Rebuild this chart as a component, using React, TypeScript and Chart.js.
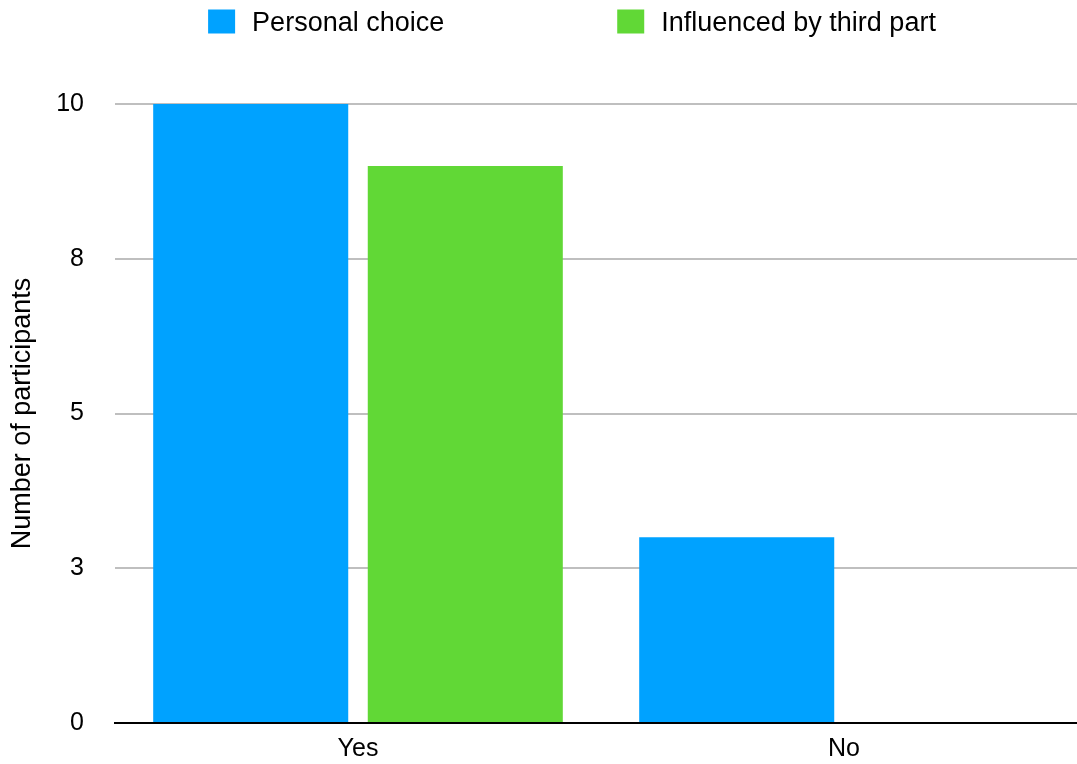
import React, { useEffect, useRef } from "react";
import { Chart, registerables } from "chart.js";

Chart.register(...registerables);

const categories = ["Yes", "No"];
const seriesLabels = ["Personal choice", "Influenced by third part"];
const personalChoice = [10, 3];
const influencedByThirdPart = [9, 0];
const yTickValues = [0, 2.5, 5, 7.5, 10];
const yTickLabels = ["0", "3", "5", "8", "10"];
const yAxisTitle = "Number of participants";

const BLUE = "#00A2FF";
const GREEN = "#61D836";
const FONT = '"Liberation Sans", Arial, Helvetica, sans-serif';

const topLegend = {
  id: "topLegend",
  afterDraw(chart: any) {
    const ctx = chart.ctx;
    ctx.save();
    ctx.font = `27px ${FONT}`;
    ctx.textBaseline = "alphabetic";
    ctx.textAlign = "left";
    const boxW = 27;
    const boxH = 24;
    const textGap = 17;
    const itemGap = 173;
    const items = chart.data.datasets.map((ds: any) => ({
      text: ds.label,
      color: ds.backgroundColor,
      w: boxW + textGap + ctx.measureText(ds.label).width,
    }));
    const total =
      items.reduce((s: number, it: any) => s + it.w, 0) + itemGap * (items.length - 1);
    let x = 572 - total / 2;
    const boxTop = 9.5;
    const baseline = 31;
    items.forEach((it: any) => {
      ctx.fillStyle = it.color;
      ctx.fillRect(x, boxTop, boxW, boxH);
      ctx.fillStyle = "#000";
      ctx.fillText(it.text, x + boxW + textGap, baseline);
      x += it.w + itemGap;
    });
    ctx.restore();
  },
};

export default function App() {
  const canvasRef = useRef<HTMLCanvasElement | null>(null);

  useEffect(() => {
    if (!canvasRef.current) return;
    Chart.defaults.font.family = FONT;
    const chart = new Chart(canvasRef.current, {
      type: "bar",
      data: {
        labels: categories,
        datasets: [
          {
            label: seriesLabels[0],
            data: personalChoice,
            backgroundColor: BLUE,
            borderWidth: 0,
            categoryPercentage: 0.883,
            barPercentage: 0.909,
          },
          {
            label: seriesLabels[1],
            data: influencedByThirdPart,
            backgroundColor: GREEN,
            borderWidth: 0,
            categoryPercentage: 0.883,
            barPercentage: 0.909,
          },
        ],
      },
      options: {
        responsive: false,
        animation: false,
        devicePixelRatio: 1,
        layout: { padding: { top: 104, left: 0, right: 3, bottom: 0 } },
        plugins: {
          legend: { display: false },
          tooltip: { enabled: false },
        },
        scales: {
          x: {
            z: 1,
            grid: { display: false, drawTicks: false },
            border: { display: true, color: "#000", width: 2 },
            ticks: { font: { size: 25, family: FONT }, color: "#000", padding: 11 },
            afterFit: (scale: any) => {
              scale.height = 41;
            },
          },
          y: {
            min: 0,
            max: 10,
            afterBuildTicks: (axis: any) => {
              axis.ticks = yTickValues.map((v) => ({ value: v }));
            },
            afterFit: (scale: any) => {
              scale.width = 115;
              scale.paddingTop = 0;
              scale.paddingBottom = 0;
            },
            ticks: {
              font: { size: 25, family: FONT },
              color: "#000",
              padding: 31,
              callback: (value: any) => {
                const i = yTickValues.indexOf(Number(value));
                return i >= 0 ? yTickLabels[i] : "";
              },
            },
            grid: {
              color: (c: any) => (c.tick && c.tick.value === 0 ? "#000" : "#bfbfbf"),
              lineWidth: 2,
              drawTicks: false,
            },
            border: { display: false },
            title: {
              display: true,
              text: yAxisTitle,
              color: "#000",
              font: { size: 27, family: FONT },
              padding: { top: 6, bottom: 4 },
            },
          },
        },
      },
      plugins: [topLegend],
    });
    return () => chart.destroy();
  }, []);

  return (
    <div
      style={{
        position: "fixed",
        left: 0,
        top: 0,
        width: 1077,
        height: 764,
        overflow: "hidden",
        background: "#fff",
      }}
    >
      <canvas ref={canvasRef} width={1090} height={764} style={{ display: "block" }} />
    </div>
  );
}
